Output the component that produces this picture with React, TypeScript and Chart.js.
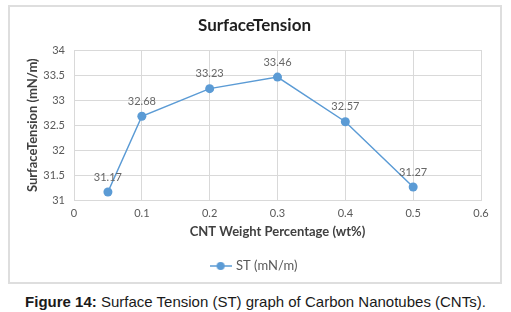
import React, { useEffect, useRef } from "react";
import { Chart, registerables } from "chart.js";

Chart.register(...registerables);

const weightPct = [0.05, 0.1, 0.2, 0.3, 0.4, 0.5];
const surfaceTension = [31.17, 32.68, 33.23, 33.46, 32.57, 31.27];
const seriesName = "ST (mN/m)";
const chartTitle = "SurfaceTension";
const xTitle = "CNT Weight Percentage (wt%)";
const yTitle = "SurfaceTension (mN/m)";
const xRange = [0, 0.6];
const xStep = 0.1;
const yRange = [31, 34];
const yStep = 0.5;

const BLUE = "#5b9bd5";
const GRAY_TEXT = "#595959";
const GRID = "#d9d9d9";
const FONT = "Lato, 'Open Sans', sans-serif";

function makeLegendMarker() {
  const c = document.createElement("canvas");
  c.width = 22;
  c.height = 10;
  const ctx = c.getContext("2d")!;
  ctx.strokeStyle = BLUE;
  ctx.lineWidth = 1.5;
  ctx.beginPath();
  ctx.moveTo(0, 5);
  ctx.lineTo(22, 5);
  ctx.stroke();
  ctx.fillStyle = BLUE;
  ctx.beginPath();
  ctx.arc(11, 5, 4, 0, Math.PI * 2);
  ctx.fill();
  return c;
}

const dataLabels = {
  id: "dataLabels",
  afterDatasetsDraw(chart: any) {
    const ctx = chart.ctx;
    ctx.save();
    ctx.font = `11px ${FONT}`;
    ctx.fillStyle = "#666666";
    ctx.textAlign = "center";
    ctx.textBaseline = "middle";
    chart.data.datasets.forEach((ds: any, i: number) => {
      const meta = chart.getDatasetMeta(i);
      meta.data.forEach((pt: any, j: number) => {
        const v = ds.data[j].y;
        ctx.fillText(v.toFixed(2), pt.x, pt.y - 15);
      });
    });
    ctx.restore();
  },
};

export default function App() {
  const ref = useRef<HTMLCanvasElement>(null);

  useEffect(() => {
    const marker = makeLegendMarker();
    const chart = new Chart(ref.current!, {
      type: "scatter",
      data: {
        datasets: [
          {
            label: seriesName,
            data: weightPct.map((x, i) => ({ x, y: surfaceTension[i] })),
            showLine: true,
            borderColor: BLUE,
            backgroundColor: BLUE,
            borderWidth: 1.5,
            pointRadius: 4.5,
            pointBackgroundColor: BLUE,
            pointBorderColor: BLUE,
            pointBorderWidth: 0,
          },
        ],
      },
      options: {
        animation: false,
        responsive: false,
        events: [],
        layout: { padding: { left: 28, right: 30, top: 0, bottom: 7.5 } },
        plugins: {
          tooltip: { enabled: false },
          title: {
            display: true,
            text: chartTitle,
            color: "#1f1f1f",
            font: { family: FONT, size: 17, weight: "bold" },
            padding: { top: 15.8, bottom: 13.8 },
          },
          legend: {
            position: "bottom",
            labels: {
              usePointStyle: true,
              pointStyleWidth: 18,
              padding: 14,
              color: GRAY_TEXT,
              font: { family: FONT, size: 13 },
              generateLabels: () => [
                {
                  text: seriesName,
                  pointStyle: marker as any,
                  fillStyle: BLUE,
                  strokeStyle: BLUE,
                  lineWidth: 0,
                  hidden: false,
                  datasetIndex: 0,
                  fontColor: GRAY_TEXT,
                } as any,
              ],
            },
          },
        },
        scales: {
          x: {
            type: "linear",
            min: xRange[0],
            max: xRange[1],
            grid: { color: GRID, drawTicks: false },
            border: { color: GRID },
            ticks: {
              stepSize: xStep,
              padding: 6,
              color: GRAY_TEXT,
              font: { family: FONT, size: 11 },
              callback: (v: any) => String(Number(Number(v).toFixed(1))),
            },
            title: {
              display: true,
              text: xTitle,
              color: "#404040",
              font: { family: FONT, size: 13, weight: "bold" },
              padding: { top: 0, bottom: 5.7 },
            },
            afterFit: (s: any) => {
              s.height = 45;
            },
          },
          y: {
            type: "linear",
            min: yRange[0],
            max: yRange[1],
            grid: { color: GRID, drawTicks: false },
            border: { color: GRID },
            ticks: {
              stepSize: yStep,
              padding: 9,
              color: GRAY_TEXT,
              font: { family: FONT, size: 11 },
              callback: (v: any) => String(Number(Number(v).toFixed(1))),
            },
            title: {
              display: true,
              text: yTitle,
              color: "#404040",
              font: { family: FONT, size: 13, weight: "bold" },
              padding: { top: -2.8, bottom: 0 },
            },
            afterFit: (s: any) => {
              s.width = 46;
            },
          },
        },
      },
      plugins: [dataLabels],
    });
    return () => chart.destroy();
  }, []);

  return (
    <div style={{ position: "absolute", left: 0, top: 0, width: 511, height: 312, background: "#fff" }}>
      <div
        style={{
          position: "absolute",
          left: 8,
          top: 5,
          width: 490,
          height: 275,
          border: "2px solid #dedede",
        }}
      />
      <canvas
        ref={ref}
        width={511}
        height={290}
        style={{ position: "absolute", left: 0, top: 0, width: 511, height: 290 }}
      />
      <div
        style={{
          position: "absolute",
          left: 0,
          top: 293,
          width: 511,
          textAlign: "center",
          fontFamily: "'Liberation Sans', Arial, sans-serif",
          fontSize: 15,
          color: "#1a1a1a",
          whiteSpace: "nowrap",
        }}
      >
        <b>Figure 14:</b> Surface Tension (ST) graph of Carbon Nanotubes (CNTs).
      </div>
    </div>
  );
}
